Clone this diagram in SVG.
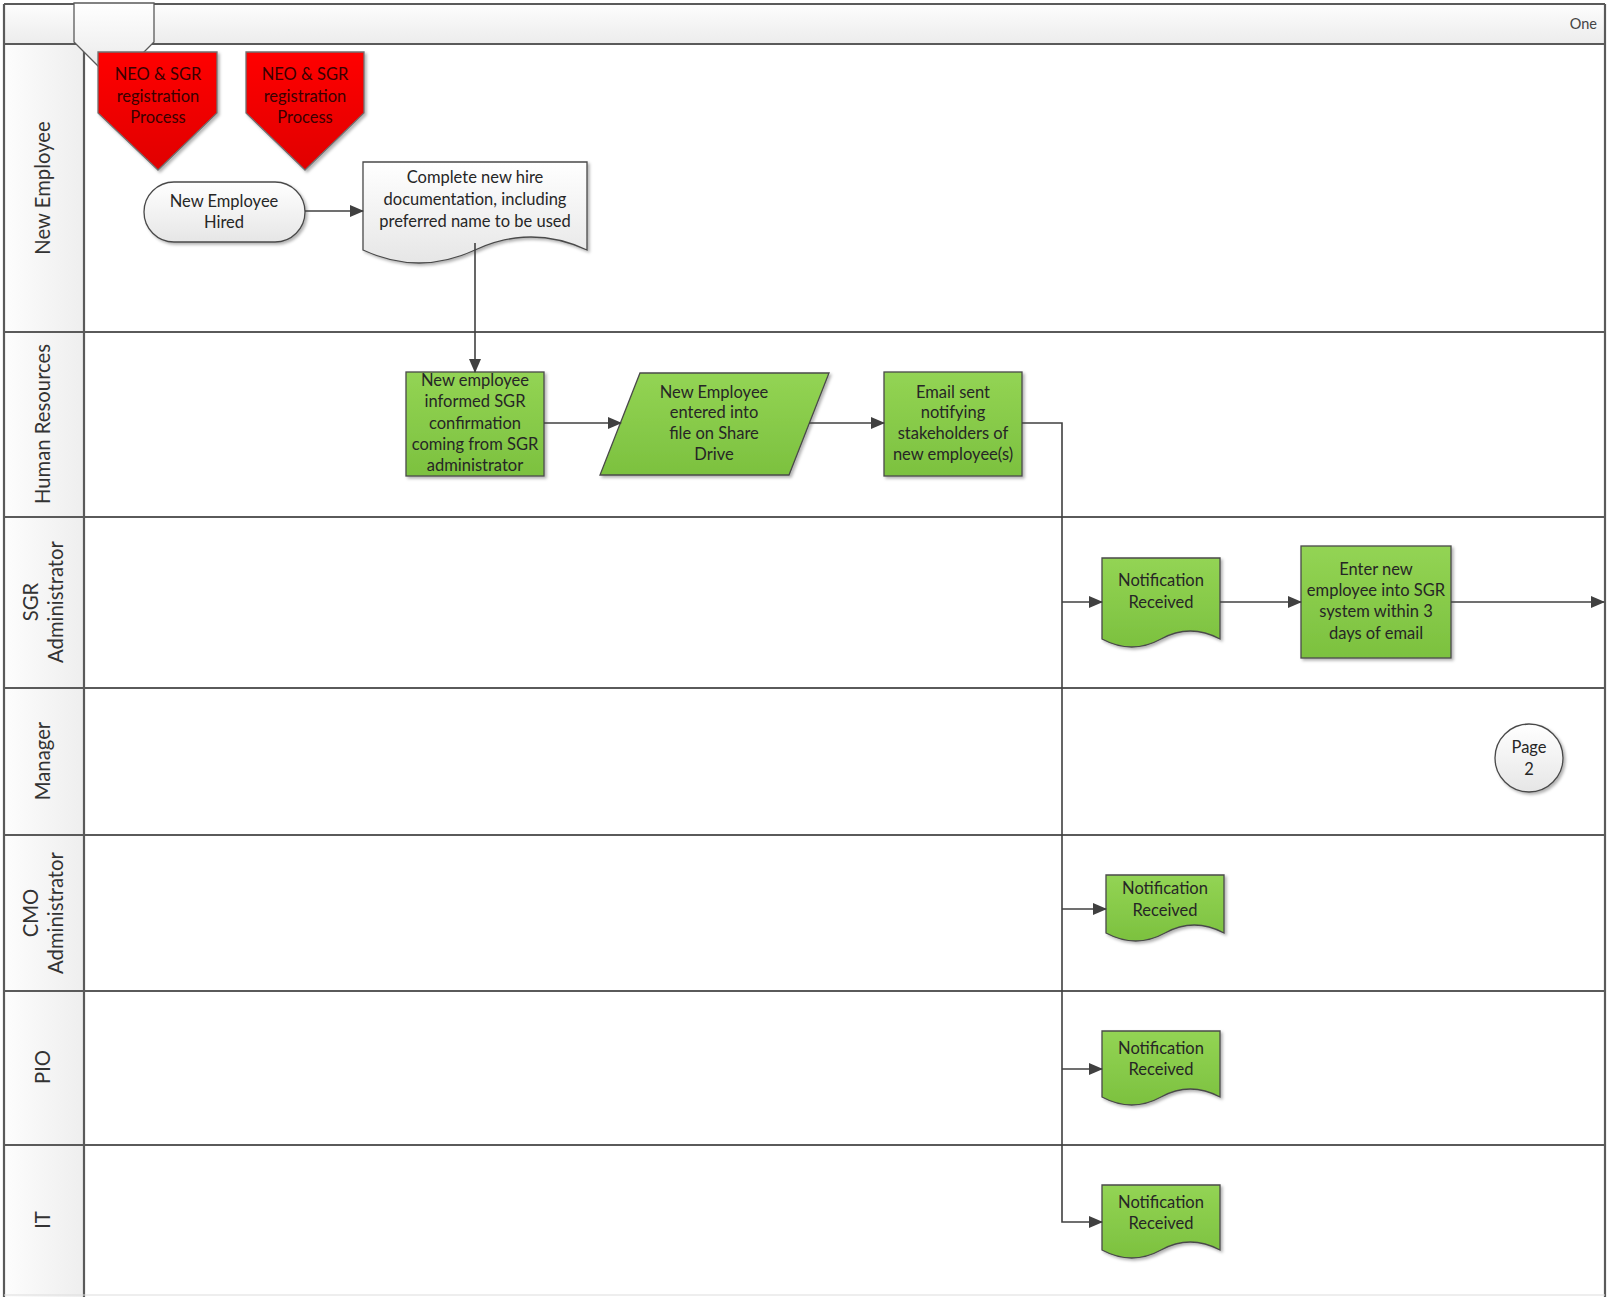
<svg xmlns="http://www.w3.org/2000/svg" width="1616" height="1297" viewBox="0 0 1616 1297">
<defs>
  <linearGradient id="hdr" x1="0" y1="0" x2="0" y2="1"><stop offset="0" stop-color="#fdfdfd"/><stop offset="1" stop-color="#ececec"/></linearGradient>
  <linearGradient id="lhdr" x1="0" y1="0" x2="1" y2="0"><stop offset="0" stop-color="#fdfdfd"/><stop offset="1" stop-color="#eeeeee"/></linearGradient>
  <linearGradient id="white" x1="0" y1="0" x2="0" y2="1"><stop offset="0" stop-color="#ffffff"/><stop offset="1" stop-color="#e6e6e6"/></linearGradient>
  <linearGradient id="green" x1="0" y1="0" x2="0" y2="1"><stop offset="0" stop-color="#93d454"/><stop offset="1" stop-color="#7cc13f"/></linearGradient>
  <linearGradient id="red" x1="0" y1="0" x2="0" y2="1"><stop offset="0" stop-color="#ff0000"/><stop offset="1" stop-color="#e00000"/></linearGradient>
  <filter id="sh" x="-10%" y="-10%" width="130%" height="130%"><feDropShadow dx="2" dy="2" stdDeviation="1.5" flood-color="#000" flood-opacity="0.3"/></filter>
  <marker id="arr" markerUnits="userSpaceOnUse" markerWidth="14" markerHeight="12" refX="13" refY="6" orient="auto"><path d="M0,0 L14,6 L0,12 z" fill="#404040"/></marker>
</defs>
<style>
  .line{stroke:#5a5a5a;stroke-width:2.2;fill:none}
  .lbl{font-family:Lato,"Liberation Sans",sans-serif;font-size:20.3px;fill:#333;text-anchor:middle;dominant-baseline:central}
  .t{font-family:Lato,"Liberation Sans",sans-serif;font-size:16.5px;fill:#262626;text-anchor:middle;dominant-baseline:central}
  .rt{fill:#3a0000}
  .gn{fill:url(#green);stroke:#4a4a4a;stroke-width:1.3;filter:url(#sh)}
  .wn{fill:url(#white);stroke:#4a4a4a;stroke-width:1.3;filter:url(#sh)}
  .rn{fill:url(#red);stroke:#707070;stroke-width:1.3;filter:url(#sh)}
  .ca{stroke:#404040;stroke-width:1.6;fill:none;marker-end:url(#arr)}
</style>
<rect x="0" y="0" width="1616" height="1297" fill="#fff"/>
<g id="pool">
  <rect x="4" y="4" width="1601" height="40" fill="url(#hdr)"/>
  <rect x="4" y="45" width="80" height="1252" fill="url(#lhdr)"/>
  <text x="1597" y="23" class="t" style="text-anchor:end;font-size:14.5px;fill:#444">One</text>
  <path class="line" d="M4 4 H1605 M4 44 H1605 M4 4 V1297 M1605 4 V1297 M84 44 V1297 M4 332 H1605 M4 517 H1605 M4 688 H1605 M4 835 H1605 M4 991 H1605 M4 1145 H1605"/>
  <path d="M4 1295 H1605" stroke="#ddd" stroke-width="1"/>
</g>
<g id="lane-labels">
  <text class="lbl" transform="translate(42,188) rotate(-90)">New Employee</text>
  <text class="lbl" transform="translate(42,424) rotate(-90)">Human Resources</text>
  <text class="lbl" transform="translate(30,602) rotate(-90)">SGR</text>
  <text class="lbl" transform="translate(55,602) rotate(-90)">Administrator</text>
  <text class="lbl" transform="translate(42,761) rotate(-90)">Manager</text>
  <text class="lbl" transform="translate(30,913) rotate(-90)">CMO</text>
  <text class="lbl" transform="translate(55,913) rotate(-90)">Administrator</text>
  <text class="lbl" transform="translate(42,1067) rotate(-90)">PIO</text>
  <text class="lbl" transform="translate(42,1220) rotate(-90)">IT</text>
</g>
<g id="offpage-tab">
  <path d="M74 3 H154 V42 L114 82 L74 42 Z" fill="url(#white)" stroke="#5a5a5a" stroke-width="1.3"/>
</g>
<g id="neo1">
  <path class="rn" d="M98 52 H217 V113 L158 170 L98 113 Z"/>
  <text class="t rt" x="158" y="74">NEO &amp; SGR</text>
  <text class="t rt" x="158" y="96">registration</text>
  <text class="t rt" x="158" y="117">Process</text>
</g>
<g id="neo2">
  <path class="rn" d="M246 52 H364 V113 L305 170 L246 113 Z"/>
  <text class="t rt" x="305" y="74">NEO &amp; SGR</text>
  <text class="t rt" x="305" y="96">registration</text>
  <text class="t rt" x="305" y="117">Process</text>
</g>
<g id="hired">
  <rect class="wn" x="144" y="182" width="161" height="60" rx="30" ry="30"/>
  <text class="t" x="224" y="201">New Employee</text>
  <text class="t" x="224" y="222">Hired</text>
</g>
<g id="complete-doc">
  <path class="wn" d="M363 162 H587 V250 Q531 224 475 250 T363 250 Z"/>
  <text class="t" x="475" y="177">Complete new hire</text>
  <text class="t" x="475" y="199">documentation, including</text>
  <text class="t" x="475" y="221">preferred name to be used</text>
</g>
<g id="informed">
  <rect class="gn" x="406" y="372" width="138" height="104"/>
  <text class="t" x="475" y="380">New employee</text>
  <text class="t" x="475" y="401">informed SGR</text>
  <text class="t" x="475" y="423">confirmation</text>
  <text class="t" x="475" y="444">coming from SGR</text>
  <text class="t" x="475" y="465">administrator</text>
</g>
<g id="share-drive">
  <path class="gn" d="M640 373 H829 L789 475 H600 Z"/>
  <text class="t" x="714" y="392">New Employee</text>
  <text class="t" x="714" y="412">entered into</text>
  <text class="t" x="714" y="433">file on Share</text>
  <text class="t" x="714" y="454">Drive</text>
</g>
<g id="email-sent">
  <rect class="gn" x="884" y="372" width="138" height="104"/>
  <text class="t" x="953" y="392">Email sent</text>
  <text class="t" x="953" y="412">notifying</text>
  <text class="t" x="953" y="433">stakeholders of</text>
  <text class="t" x="953" y="454">new employee(s)</text>
</g>
<g id="notif-sgr">
  <path class="gn" d="M1102 558 H1220 V639 Q1190 623 1161 639 T1102 639 Z"/>
  <text class="t" x="1161" y="580">Notification</text>
  <text class="t" x="1161" y="602">Received</text>
</g>
<g id="enter-sgr">
  <rect class="gn" x="1301" y="546" width="150" height="112"/>
  <text class="t" x="1376" y="569">Enter new</text>
  <text class="t" x="1376" y="590">employee into SGR</text>
  <text class="t" x="1376" y="611">system within 3</text>
  <text class="t" x="1376" y="633">days of email</text>
</g>
<g id="page2">
  <circle class="wn" cx="1529" cy="758" r="34"/>
  <text class="t" x="1529" y="747">Page</text>
  <text class="t" x="1529" y="769">2</text>
</g>
<g id="notif-cmo">
  <path class="gn" d="M1106 875 H1224 V933 Q1194 917 1165 933 T1106 933 Z"/>
  <text class="t" x="1165" y="888">Notification</text>
  <text class="t" x="1165" y="910">Received</text>
</g>
<g id="notif-pio">
  <path class="gn" d="M1102 1031 H1220 V1097 Q1190 1081 1161 1097 T1102 1097 Z"/>
  <text class="t" x="1161" y="1048">Notification</text>
  <text class="t" x="1161" y="1069">Received</text>
</g>
<g id="notif-it">
  <path class="gn" d="M1102 1185 H1220 V1250 Q1190 1234 1161 1250 T1102 1250 Z"/>
  <text class="t" x="1161" y="1202">Notification</text>
  <text class="t" x="1161" y="1223">Received</text>
</g>
<g id="connectors">
  <path class="ca" d="M305 211 H363"/>
  <path class="ca" d="M475 243 V372"/>
  <path class="ca" d="M544 423 H621"/>
  <path class="ca" d="M809 423 H884"/>
  <path class="ca" d="M1022 423 H1062 V1222 H1102"/>
  <path class="ca" d="M1062 602 H1102"/>
  <path class="ca" d="M1062 909 H1106"/>
  <path class="ca" d="M1062 1069 H1102"/>
  <path class="ca" d="M1220 602 H1301"/>
  <path class="ca" d="M1451 602 H1604"/>
</g>
</svg>
